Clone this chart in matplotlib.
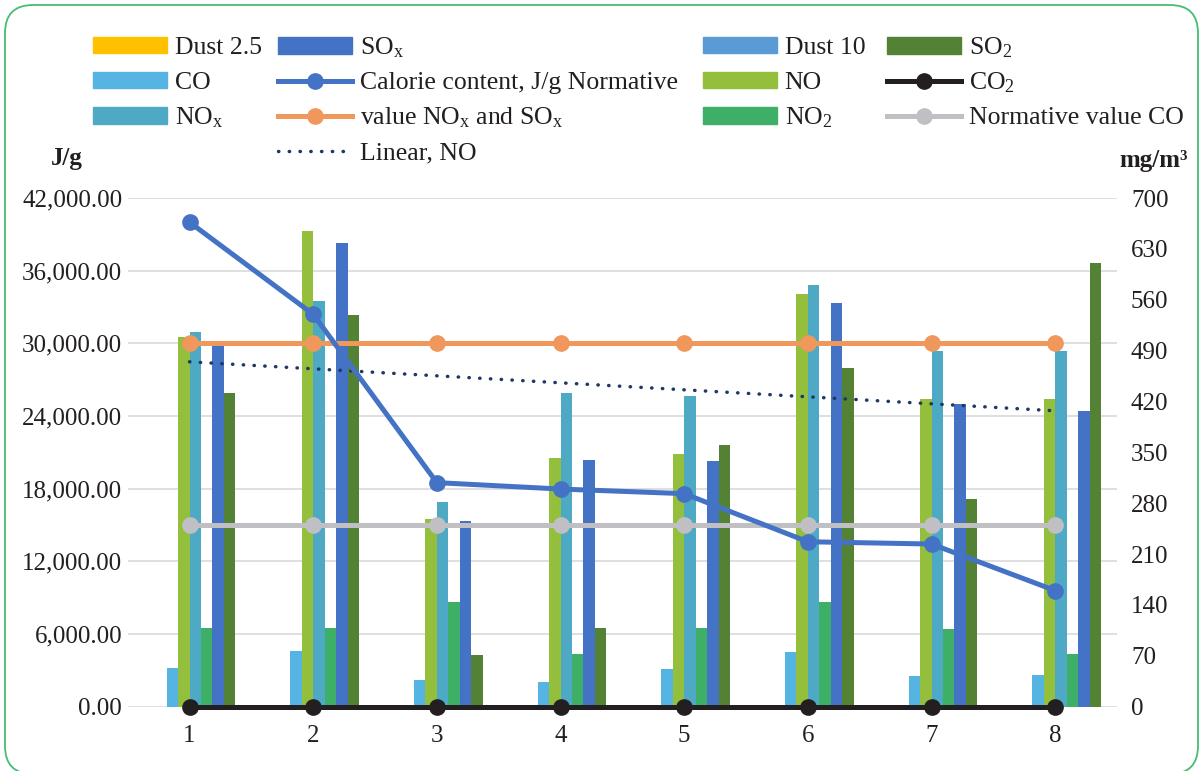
import numpy as np
import matplotlib.pyplot as plt
from matplotlib.patches import FancyBboxPatch, Patch
from matplotlib.transforms import IdentityTransform

plt.rcParams['font.family'] = ['Liberation Serif', 'DejaVu Serif']
plt.rcParams['mathtext.fontset'] = 'custom'
plt.rcParams['mathtext.rm'] = 'Liberation Serif'
plt.rcParams['mathtext.it'] = 'Liberation Serif:italic'
plt.rcParams['mathtext.bf'] = 'Liberation Serif:bold'

samples = np.arange(1, 9)

# emissions, mg/m3 (right axis)
dust25 = [0, 0, 0, 0, 0, 0, 0, 0]
dust10 = [0, 0, 0, 0, 0, 0, 0, 0]
co = [53, 77, 37, 34, 52, 75, 42, 44]
no = [509, 654, 258, 342, 348, 568, 424, 424]
nox = [516, 558, 282, 432, 427, 580, 490, 490]
no2 = [108, 108, 144, 72, 108, 144, 107, 72]
sox = [497, 638, 256, 339, 338, 555, 416, 407]
so2 = [431, 539, 71, 108, 360, 466, 286, 610]
co2 = [0, 0, 0, 0, 0, 0, 0, 0]
norm_nox_sox = [500, 500, 500, 500, 500, 500, 500, 500]
norm_co = [250, 250, 250, 250, 250, 250, 250, 250]

# calorie content, J/g (left axis)
calorie = [40000, 32400, 18500, 17970, 17590, 13620, 13430, 9590]

bar_series = [
    ('Dust 2.5', dust25, '#ffc000'),
    ('Dust 10', dust10, '#5b9bd5'),
    ('CO', co, '#56b4e3'),
    ('NO', no, '#93bf3d'),
    ('NO$_\\mathrm{x}$', nox, '#4ea9c4'),
    ('NO$_\\mathrm{2}$', no2, '#3daf67'),
    ('SO$_\\mathrm{x}$', sox, '#4472c4'),
    ('SO$_\\mathrm{2}$', so2, '#548235'),
]

W, H = 1202, 771
fig = plt.figure(figsize=(W / 100, H / 100), dpi=100)

border = FancyBboxPatch((5, -3), 1193, 769, boxstyle='round,pad=0,rounding_size=28',
                        transform=IdentityTransform(), fill=False, ec='#45bd72', lw=1.3)
fig.patches.append(border)

ax = fig.add_axes([127.7 / W, 1 - 706.7 / H, (1117 - 127.7) / W, (706.7 - 198) / H])
ax2 = ax.twinx()
ax3 = ax.twinx()

ax.set_xlim(0.5, 8.5)
ax.set_ylim(0, 42000)
ax.set_yticks(np.arange(0, 42001, 6000))
ax.set_yticklabels([f'{v:,.2f}' for v in np.arange(0, 42001, 6000)])
ax.set_xticks(samples)
ax.set_xticklabels([str(s) for s in samples])
ax.yaxis.grid(True, color='#d9d9d9', lw=1.2)
ax.set_axisbelow(True)
ax.tick_params(axis='y', length=0, pad=4, labelsize=18, colors='#231f20')
ax.tick_params(axis='x', length=0, pad=13, labelsize=18, colors='#231f20')
for s in ax.spines.values():
    s.set_visible(False)

ax2.set_ylim(0, 700)
ax2.set_yticks(np.arange(0, 701, 70))
ax2.tick_params(axis='y', length=0, pad=10, labelsize=18, colors='#231f20')
for s in ax2.spines.values():
    s.set_visible(False)

w = 0.0927
handles = {}
for i, (name, vals, color) in enumerate(bar_series):
    ax2.bar(samples + (i - 3.5) * w, vals, width=w, color=color, lw=0, zorder=2)
    handles[name] = Patch(color=color)

lw = 3.6
ms = 11
ln_co2, = ax2.plot(samples, co2, color='#231f20', lw=lw, marker='o', ms=ms, zorder=4, clip_on=False)
ln_nox, = ax2.plot(samples, norm_nox_sox, color='#f0975b', lw=lw, marker='o', ms=ms, zorder=4)
ln_co, = ax2.plot(samples, norm_co, color='#c0c0c4', lw=lw, marker='o', ms=ms, zorder=4)

# linear trendline of NO
k, b0 = np.polyfit(samples, no, 1)
xt = np.array([samples[0], samples[-1]])
ln_trend, = ax2.plot(xt, k * xt + b0, color='#203864', lw=2.5, ls=(0, (0.1, 3.0)),
                     dash_capstyle='round', zorder=4)

ax3.set_ylim(ax.get_ylim())
ax3.axis('off')
ln_cal, = ax3.plot(samples, calorie, color='#4472c4', lw=lw, marker='o', ms=ms, zorder=5)

fig.text(67 / W, 1 - 158 / H, 'J/g', fontsize=18, fontweight='bold', ha='center', va='center', color='#231f20')
fig.text(1154 / W, 1 - 161 / H, 'mg/m³', fontsize=18, fontweight='bold', ha='center', va='center', color='#231f20')

columns = [
    (93, [handles['Dust 2.5'], handles['CO'], handles['NO$_\\mathrm{x}$']],
     ['Dust 2.5', 'CO', 'NO$_\\mathrm{x}$']),
    (278, [handles['SO$_\\mathrm{x}$'], ln_cal, ln_nox, ln_trend],
     ['SO$_\\mathrm{x}$', 'Calorie content, J/g Normative', 'value NO$_\\mathrm{x}$ and SO$_\\mathrm{x}$', 'Linear, NO']),
    (703, [handles['Dust 10'], handles['NO'], handles['NO$_\\mathrm{2}$']],
     ['Dust 10', 'NO', 'NO$_\\mathrm{2}$']),
    (887, [handles['SO$_\\mathrm{2}$'], ln_co2, ln_co],
     ['SO$_\\mathrm{2}$', 'CO$_\\mathrm{2}$', 'Normative value CO']),
]
for x0, hs, labels in columns:
    for r, (h, lab) in enumerate(zip(hs, labels)):
        fig.legend([h], [lab], loc='center left',
                   bbox_to_anchor=(x0 / W, 1 - (48 + 35 * r) / H),
                   frameon=False, borderpad=0, borderaxespad=0, fontsize=18.5,
                   handlelength=2.88, handleheight=0.62, handletextpad=0.3,
                   labelcolor='#231f20')

fig.savefig('out.png', dpi=100)
